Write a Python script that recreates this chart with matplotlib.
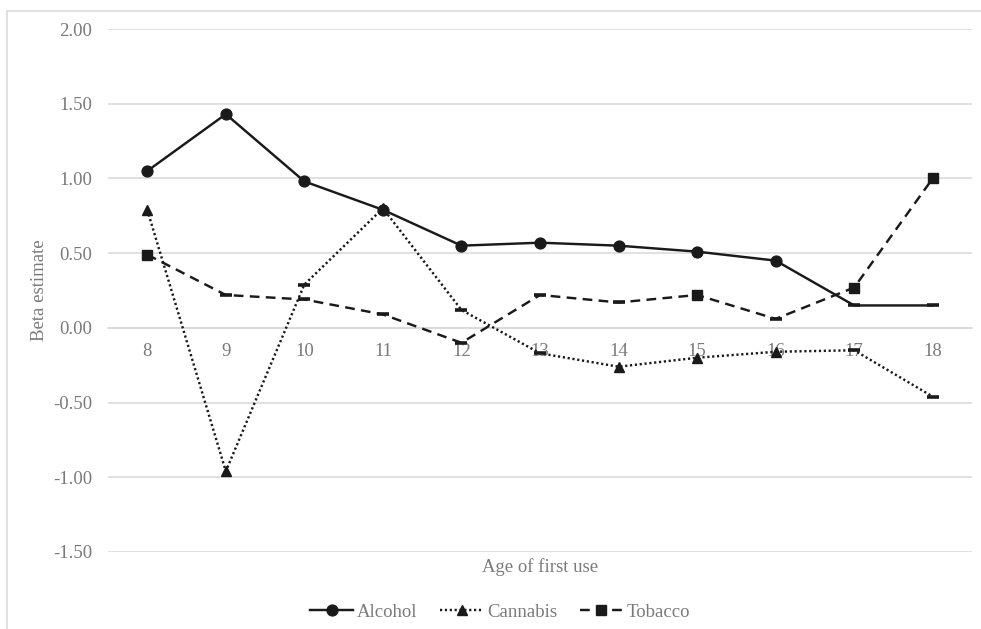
import matplotlib
matplotlib.use("Agg")
import matplotlib.pyplot as plt
from matplotlib.lines import Line2D

ages = [8, 9, 10, 11, 12, 13, 14, 15, 16, 17, 18]

alcohol = [1.05, 1.43, 0.98, 0.79, 0.55, 0.57, 0.55, 0.51, 0.45, 0.15, 0.15]
cannabis = [0.79, -0.96, 0.29, 0.80, 0.12, -0.17, -0.26, -0.20, -0.16, -0.15, -0.46]
tobacco = [0.49, 0.22, 0.19, 0.09, -0.10, 0.22, 0.17, 0.22, 0.06, 0.27, 1.00]

# marker per point: series marker where shown, dash where not
alcohol_mk = ["o"] * 9 + ["_", "_"]
cannabis_mk = ["^", "^", "_", "^", "_", "_", "^", "^", "^", "_", "_"]
tobacco_mk = ["s", "_", "_", "_", "_", "_", "_", "s", "_", "s", "s"]

y_ticks = [-1.5, -1.0, -0.5, 0.0, 0.5, 1.0, 1.5, 2.0]

TXT = "#7a7a7a"
GRID = "#d9d9d9"
INK = "#1a1a1a"
plt.rcParams["font.family"] = ["Liberation Serif", "DejaVu Serif"]

W, H = 981, 629
fig = plt.figure(figsize=(W / 100, H / 100), dpi=100)
ax = fig.add_axes([108 / W, (H - 552) / H, (972 - 108) / W, (552 - 29) / H])

styles = {
    "Alcohol": dict(ls="-"),
    "Cannabis": dict(ls=(0, (0.9, 1.1))),
    "Tobacco": dict(ls=(0, (4, 2.6))),
}
series = [("Alcohol", alcohol, alcohol_mk, "o"),
          ("Cannabis", cannabis, cannabis_mk, "^"),
          ("Tobacco", tobacco, tobacco_mk, "s")]

handles = []
for name, vals, mks, legmk in series:
    ax.plot(ages, vals, color=INK, lw=1.75, zorder=3, **styles[name])
    for x, y, m in zip(ages, vals, mks):
        if m == "_":
            ax.plot(x, y, marker="_", ms=9, mew=2.6, color=INK, zorder=4)
        else:
            ax.plot(x, y, marker=m, ms=7.8, color=INK, mec=INK, zorder=4)
    handles.append(Line2D([], [], color=INK, lw=1.75, marker=legmk, ms=7.8,
                          label=name, **styles[name]))

ax.set_xlim(7.5, 18.5)
ax.set_ylim(-1.5, 2.0)
ax.set_yticks(y_ticks)
ax.set_yticklabels([f"{v:.2f}" for v in y_ticks])
ax.set_xticks(ages)
ax.set_xticklabels([str(a) for a in ages])
ax.grid(axis="y", color=GRID, lw=1.1, zorder=0)
ax.set_axisbelow(True)
for s in ["top", "right", "left"]:
    ax.spines[s].set_visible(False)
ax.spines["bottom"].set_position(("data", 0))
ax.spines["bottom"].set_color(GRID)
ax.spines["bottom"].set_linewidth(1.1)
ax.spines["bottom"].set_zorder(0)
ax.tick_params(axis="both", length=0, labelsize=13.5, labelcolor=TXT)
ax.tick_params(axis="y", pad=11.5)
ax.tick_params(axis="x", pad=11)

fig.text(40 / W, 1 - 290 / H, "Beta estimate", rotation=90, ha="center",
         va="center", fontsize=13.5, color=TXT)
fig.text(540 / W, 1 - 567 / H, "Age of first use", ha="center",
         va="center", fontsize=13.5, color=TXT)

leg = fig.legend(handles=handles, loc="center", ncol=3,
                 bbox_to_anchor=(500 / W, 1 - 612 / H), frameon=False,
                 fontsize=13.5, handlelength=2.3, handletextpad=0.2,
                 columnspacing=1.2)
for t in leg.get_texts():
    t.set_color(TXT)

# chart border (only top and left edges visible in the crop)
fig.add_artist(Line2D([7 / W, 1], [1 - 11 / H, 1 - 11 / H], color=GRID,
                      lw=1.1, transform=fig.transFigure))
fig.add_artist(Line2D([7 / W, 7 / W], [0, 1 - 11 / H], color=GRID,
                      lw=1.1, transform=fig.transFigure))

fig.savefig("out.png", dpi=100)
